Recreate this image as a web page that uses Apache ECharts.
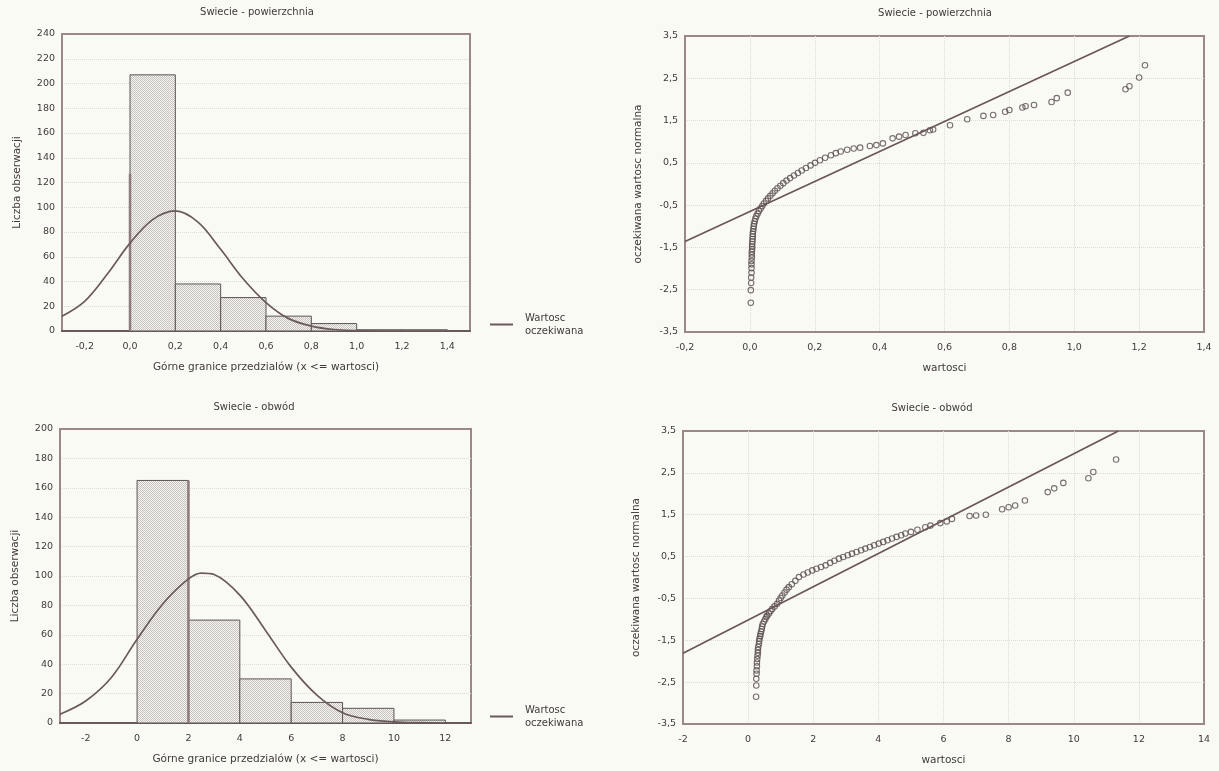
<!DOCTYPE html>
<html>
<head>
<meta charset="utf-8">
<script src="https://cdn.jsdelivr.net/npm/echarts@6/dist/echarts.min.js"></script>
<style>
  html, body { margin: 0; padding: 0; background: #fafaf5; }
  #chart { width: 1219px; height: 771px; }
</style>
</head>
<body>
<div id="chart"></div>
<script>
// ---- Swiecie - powierzchnia: histogram (bin edges, counts) and expected normal curve
const surfEdges = [0, 0.2, 0.4, 0.6, 0.8, 1.0, 1.2, 1.4];
const surfCounts = [207, 38, 27, 12, 6, 1, 1];
const surfCurveX = [-0.3, -0.2, -0.1, 0.0, 0.1, 0.2, 0.3, 0.4, 0.5, 0.6, 0.7, 0.8, 0.9, 1.0, 1.1, 1.2, 1.3, 1.4, 1.5];
const surfCurveY = [12, 24, 46, 71, 90, 97, 88, 66, 42, 23, 10, 4, 1.2, 0.3, 0, 0, 0, 0, 0];
const surfZeroEdge = [[0, 0], [0, 127]];

// ---- Swiecie - obwód: histogram and expected normal curve
const circEdges = [0, 2, 4, 6, 8, 10, 12];
const circCounts = [165, 70, 30, 14, 10, 2];
const circCurveX = [-3, -2, -1, 0, 1, 2, 2.5, 3, 4, 5, 6, 7, 8, 9, 10, 11, 12, 13];
const circCurveY = [6, 15, 31, 57, 81, 98, 102, 101, 87, 63, 38, 19, 7, 2.5, 0.8, 0.2, 0, 0];
const circTwoEdge = [[2, 0], [2, 165]];

// ---- normal probability plot, powierzchnia (value, expected normal value)
const surfQQValues = [
  0.003, 0.003, 0.004, 0.004, 0.005, 0.005, 0.005, 0.005, 0.006, 0.006, 0.006, 0.007, 0.007, 0.007, 0.008, 0.008,
  0.009, 0.009, 0.010, 0.011, 0.012, 0.013, 0.015, 0.017, 0.020, 0.024, 0.028, 0.033, 0.038, 0.043, 0.050, 0.056,
  0.063, 0.070, 0.077, 0.085, 0.094, 0.103, 0.113, 0.124, 0.136, 0.148, 0.160, 0.173, 0.187, 0.201, 0.216, 0.232,
  0.250, 0.265, 0.280, 0.300, 0.320, 0.340, 0.370, 0.390, 0.410, 0.440, 0.460, 0.480, 0.510, 0.535, 0.555, 0.565,
  0.617, 0.670, 0.720, 0.750, 0.787, 0.800, 0.840, 0.850, 0.876, 0.930, 0.946, 0.980, 1.158, 1.170, 1.200, 1.218
];
const surfQQNormal = [
  -2.81, -2.51, -2.34, -2.21, -2.10, -1.99, -1.90, -1.82, -1.74, -1.67, -1.60, -1.54, -1.48, -1.42, -1.36, -1.30,
  -1.24, -1.18, -1.12, -1.06, -1.00, -0.94, -0.88, -0.82, -0.76, -0.70, -0.64, -0.58, -0.52, -0.46, -0.40, -0.34,
  -0.28, -0.22, -0.16, -0.10, -0.04, 0.02, 0.08, 0.14, 0.20, 0.26, 0.32, 0.38, 0.44, 0.50, 0.56, 0.62,
  0.68, 0.73, 0.77, 0.81, 0.84, 0.86, 0.90, 0.92, 0.96, 1.08, 1.12, 1.16, 1.20, 1.21, 1.27, 1.29,
  1.39, 1.53, 1.61, 1.63, 1.71, 1.75, 1.81, 1.84, 1.87, 1.94, 2.03, 2.16, 2.24, 2.31, 2.52, 2.81
];
const surfQQLine = [[-0.2, -1.36], [1.17, 3.5]];

// ---- normal probability plot, obwód
const circQQValues = [
  0.245, 0.25, 0.25, 0.26, 0.26, 0.27, 0.27, 0.28, 0.29, 0.30, 0.30, 0.31, 0.33, 0.34, 0.35, 0.37,
  0.38, 0.40, 0.42, 0.43, 0.45, 0.49, 0.53, 0.56, 0.59, 0.64, 0.69, 0.74, 0.81, 0.89, 0.95, 1.00,
  1.05, 1.12, 1.18, 1.25, 1.34, 1.45, 1.56, 1.70, 1.83, 1.97, 2.10, 2.24, 2.38, 2.52, 2.65, 2.79,
  2.92, 3.06, 3.19, 3.33, 3.47, 3.60, 3.74, 3.87, 4.01, 4.15, 4.28, 4.42, 4.56, 4.70, 4.83, 5.00,
  5.20, 5.44, 5.60, 5.90, 6.10, 6.26, 6.80, 7.00, 7.30, 7.80, 8.00, 8.20, 8.50, 9.20, 9.40, 9.68,
  10.45, 10.60, 11.30
];
const circQQNormal = [
  -2.85, -2.58, -2.42, -2.30, -2.22, -2.12, -2.03, -1.95, -1.87, -1.80, -1.73, -1.66, -1.59, -1.52, -1.46, -1.40,
  -1.35, -1.29, -1.23, -1.17, -1.11, -1.05, -0.99, -0.94, -0.91, -0.86, -0.80, -0.75, -0.69, -0.63, -0.55, -0.49,
  -0.43, -0.36, -0.29, -0.23, -0.16, -0.08, 0.01, 0.07, 0.12, 0.17, 0.21, 0.25, 0.29, 0.35, 0.40, 0.45,
  0.49, 0.53, 0.57, 0.61, 0.65, 0.69, 0.73, 0.77, 0.81, 0.85, 0.89, 0.93, 0.97, 1.01, 1.05, 1.09,
  1.14, 1.20, 1.24, 1.30, 1.34, 1.40, 1.47, 1.48, 1.50, 1.63, 1.68, 1.72, 1.84, 2.04, 2.13, 2.26,
  2.37, 2.52, 2.82
];
const circQQLine = [[-2, -1.81], [11.37, 3.5]];

// ---- styling
const FONT = 'DejaVu Sans, Verdana, sans-serif';
const TXT = '#403a3a';
const FRAME = '#9c8787';
const DARK = '#675959';
const GRID = '#dddbd3';

// fine checkered fill used for the histogram bars
function dotPattern() {
  const c = document.createElement('canvas');
  c.width = 2; c.height = 2;
  const g = c.getContext('2d');
  g.fillStyle = '#f6f5f0';
  g.fillRect(0, 0, 2, 2);
  g.fillStyle = '#c6c2c0';
  g.fillRect(0, 0, 1, 1);
  g.fillRect(1, 1, 1, 1);
  return c;
}
const pattern = { image: dotPattern(), repeat: 'repeat' };

const comma = (v, d) => v.toFixed(d).replace('.', ',');
const zip = (a, b) => a.map((v, i) => [v, b[i]]);
const histData = (edges, counts) => counts.map((n, i) => [edges[i], edges[i + 1], n]);

function histRender(params, api) {
  const p0 = api.coord([api.value(0), api.value(2)]);
  const p1 = api.coord([api.value(1), 0]);
  return {
    type: 'rect',
    shape: { x: p0[0], y: p0[1], width: p1[0] - p0[0], height: p1[1] - p0[1] },
    style: { fill: pattern, stroke: '#5d5454', lineWidth: 1 }
  };
}

const labelStyle = { fontFamily: FONT, fontSize: 9.5, color: TXT };
const nameStyle = { fontFamily: FONT, fontSize: 10.5, color: TXT };
const gridLine = { show: true, showMinLine: false, showMaxLine: false,
  lineStyle: { color: GRID, type: 'dotted', width: 1 } };

function histXAxis(gridIndex, min, max, step, dec) {
  return {
    type: 'value', gridIndex, min, max, interval: step,
    name: 'Górne granice przedzialów (x <= wartosci)',
    nameLocation: 'middle', nameGap: 31, nameTextStyle: nameStyle,
    axisLine: { show: true, onZero: false, lineStyle: { color: DARK, width: 2 } },
    axisTick: { show: false },
    splitLine: { show: false },
    axisLabel: Object.assign({}, labelStyle, {
      margin: 11, showMinLabel: false, showMaxLabel: false,
      formatter: v => {
        const k = Math.round(v / step);
        return (k % 2 === 0) ? comma(v, dec) : '';
      }
    })
  };
}
function histYAxis(gridIndex, max) {
  return {
    type: 'value', gridIndex, min: 0, max, interval: 20,
    name: 'Liczba obserwacji', nameLocation: 'middle', nameGap: 39, nameTextStyle: nameStyle,
    axisLine: { show: true, onZero: false, lineStyle: { color: FRAME, width: 2 } },
    axisTick: { show: false },
    splitLine: gridLine,
    axisLabel: Object.assign({}, labelStyle, { margin: 7 })
  };
}
function qqXAxis(gridIndex, min, max, step, dec) {
  return {
    type: 'value', gridIndex, min, max, interval: step,
    name: 'wartosci', nameLocation: 'middle', nameGap: 31, nameTextStyle: nameStyle,
    axisLine: { show: true, onZero: false, lineStyle: { color: FRAME, width: 2 } },
    axisTick: { show: false },
    splitLine: gridLine,
    axisLabel: Object.assign({}, labelStyle, { margin: 11, formatter: v => comma(v, dec) })
  };
}
function qqYAxis(gridIndex) {
  return {
    type: 'value', gridIndex, min: -3.5, max: 3.5, interval: 1,
    name: 'oczekiwana wartosc normalna', nameLocation: 'middle', nameGap: 41, nameTextStyle: nameStyle,
    axisLine: { show: true, onZero: false, lineStyle: { color: FRAME, width: 2 } },
    axisTick: { show: false },
    splitLine: gridLine,
    axisLabel: Object.assign({}, labelStyle, { margin: 7, formatter: v => comma(v, 1) })
  };
}

const titleStyle = { fontFamily: FONT, fontSize: 10, fontWeight: 'normal', color: TXT };
const legendBase = {
  data: ['Wartosc oczekiwana'], orient: 'vertical', padding: 0,
  icon: 'rect', itemWidth: 23, itemHeight: 2,
  selectedMode: false,
  formatter: () => 'Wartosc\noczekiwana',
  textStyle: { fontFamily: FONT, fontSize: 10, color: TXT, lineHeight: 13, padding: [13, 0, 0, 7] }
};

const option = {
  backgroundColor: '#fafaf5',
  animation: false,
  title: [
    { text: 'Swiecie - powierzchnia', left: 257, top: 7, textAlign: 'center', padding: 0, textStyle: titleStyle },
    { text: 'Swiecie - powierzchnia', left: 935, top: 8, textAlign: 'center', padding: 0, textStyle: titleStyle },
    { text: 'Swiecie - obwód', left: 254, top: 402, textAlign: 'center', padding: 0, textStyle: titleStyle },
    { text: 'Swiecie - obwód', left: 932, top: 403, textAlign: 'center', padding: 0, textStyle: titleStyle }
  ],
  legend: [
    Object.assign({ left: 490, top: 305 }, legendBase),
    Object.assign({ left: 490, top: 697 }, legendBase)
  ],
  grid: [
    { left: 62, top: 34, width: 408, height: 297, show: true, borderColor: FRAME, borderWidth: 2, backgroundColor: 'transparent' },
    { left: 685, top: 36, width: 519, height: 296, show: true, borderColor: FRAME, borderWidth: 2, backgroundColor: 'transparent' },
    { left: 60, top: 429, width: 411, height: 294, show: true, borderColor: FRAME, borderWidth: 2, backgroundColor: 'transparent' },
    { left: 683, top: 431, width: 521, height: 293, show: true, borderColor: FRAME, borderWidth: 2, backgroundColor: 'transparent' }
  ],
  xAxis: [
    histXAxis(0, -0.3, 1.5, 0.1, 1),
    qqXAxis(1, -0.2, 1.4, 0.2, 1),
    histXAxis(2, -3, 13, 1, 0),
    qqXAxis(3, -2, 14, 2, 0)
  ],
  yAxis: [
    histYAxis(0, 240),
    qqYAxis(1),
    histYAxis(2, 200),
    qqYAxis(3)
  ],
  series: [
    { type: 'custom', xAxisIndex: 0, yAxisIndex: 0, renderItem: histRender,
      encode: { x: [0, 1], y: 2 }, data: histData(surfEdges, surfCounts), z: 2 },
    { type: 'line', xAxisIndex: 0, yAxisIndex: 0, data: surfZeroEdge, showSymbol: false,
      lineStyle: { color: '#8d7b7b', width: 2.5 }, z: 3, silent: true },
    { name: 'Wartosc oczekiwana', type: 'line', xAxisIndex: 0, yAxisIndex: 0,
      data: zip(surfCurveX, surfCurveY), smooth: 0.35, showSymbol: false,
      lineStyle: { color: '#6a5a5a', width: 1.7 }, itemStyle: { color: '#6a5a5a' }, z: 4 },

    { type: 'scatter', xAxisIndex: 1, yAxisIndex: 1, data: zip(surfQQValues, surfQQNormal),
      symbol: 'circle', symbolSize: 5.5,
      itemStyle: { color: 'rgba(0,0,0,0)', borderColor: '#574c4c', borderWidth: 1.1 }, z: 3 },
    { type: 'line', xAxisIndex: 1, yAxisIndex: 1, data: surfQQLine, showSymbol: false,
      lineStyle: { color: '#6a5656', width: 1.7 }, z: 4 },

    { type: 'custom', xAxisIndex: 2, yAxisIndex: 2, renderItem: histRender,
      encode: { x: [0, 1], y: 2 }, data: histData(circEdges, circCounts), z: 2 },
    { type: 'line', xAxisIndex: 2, yAxisIndex: 2, data: circTwoEdge, showSymbol: false,
      lineStyle: { color: '#8d7b7b', width: 2.5 }, z: 3, silent: true },
    { name: 'Wartosc oczekiwana', type: 'line', xAxisIndex: 2, yAxisIndex: 2,
      data: zip(circCurveX, circCurveY), smooth: 0.35, showSymbol: false,
      lineStyle: { color: '#6a5a5a', width: 1.7 }, itemStyle: { color: '#6a5a5a' }, z: 4 },

    { type: 'scatter', xAxisIndex: 3, yAxisIndex: 3, data: zip(circQQValues, circQQNormal),
      symbol: 'circle', symbolSize: 5.5,
      itemStyle: { color: 'rgba(0,0,0,0)', borderColor: '#574c4c', borderWidth: 1.1 }, z: 3 },
    { type: 'line', xAxisIndex: 3, yAxisIndex: 3, data: circQQLine, showSymbol: false,
      lineStyle: { color: '#6a5656', width: 1.7 }, z: 4 }
  ]
};

const chart = echarts.init(document.getElementById('chart'), null, { renderer: 'canvas' });
chart.setOption(option);
</script>
</body>
</html>
